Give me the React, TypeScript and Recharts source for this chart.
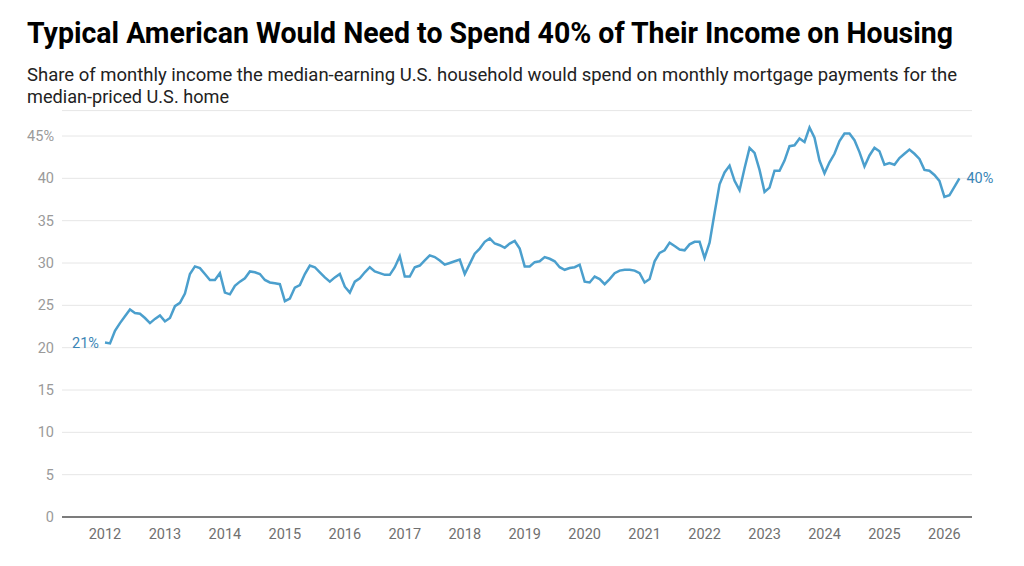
import { CartesianGrid, Line, LineChart, XAxis, YAxis } from "recharts";

// Monthly share of income (%) needed for the median-priced home, Jan 2012 – Apr 2026
const START_YEAR = 2012;
const shareOfIncome = [
  20.6, 20.5, 22.0, 22.9, 23.7, 24.5, 24.1, 24.0, 23.5, 22.9, 23.4, 23.8,
  23.1, 23.5, 24.9, 25.3, 26.4, 28.7, 29.6, 29.4, 28.7, 28.0, 28.0, 28.8,
  26.5, 26.3, 27.3, 27.8, 28.2, 29.0, 28.9, 28.7, 28.0, 27.7, 27.6, 27.5,
  25.5, 25.8, 27.1, 27.4, 28.7, 29.7, 29.5, 28.9, 28.3, 27.8, 28.3, 28.7,
  27.2, 26.5, 27.8, 28.2, 28.9, 29.5, 29.0, 28.8, 28.6, 28.6, 29.5, 30.8,
  28.4, 28.4, 29.5, 29.7, 30.3, 30.9, 30.7, 30.3, 29.8, 30.0, 30.2, 30.4,
  28.7, 29.9, 31.1, 31.7, 32.5, 32.9, 32.3, 32.1, 31.8, 32.3, 32.6, 31.7,
  29.6, 29.6, 30.1, 30.2, 30.7, 30.5, 30.2, 29.5, 29.2, 29.4, 29.5, 29.8,
  27.8, 27.7, 28.4, 28.1, 27.5, 28.1, 28.8, 29.1, 29.2, 29.2, 29.1, 28.8,
  27.7, 28.1, 30.2, 31.2, 31.5, 32.4, 32.0, 31.6, 31.5, 32.2, 32.5, 32.5,
  30.6, 32.4, 35.9, 39.3, 40.7, 41.5, 39.7, 38.6, 41.2, 43.6, 43.0, 41.0,
  38.4, 38.9, 40.9, 40.9, 42.1, 43.8, 43.9, 44.7, 44.3, 46.0, 44.8, 42.1,
  40.6, 41.9, 42.9, 44.4, 45.3, 45.3, 44.5, 43.1, 41.4, 42.7, 43.6, 43.2,
  41.6, 41.8, 41.6, 42.4, 42.9, 43.4, 42.9, 42.3, 41.0, 40.9, 40.4, 39.7,
  37.8, 38.0, 39.0, 40.0,
];

const yearTicks = [
  2012, 2013, 2014, 2015, 2016, 2017, 2018, 2019, 2020, 2021, 2022, 2023,
  2024, 2025, 2026,
];
const percentTicks = [0, 5, 10, 15, 20, 25, 30, 35, 40, 45];

const TITLE =
  "Typical American Would Need to Spend 40% of Their Income on Housing";
const SUBTITLE_1 =
  "Share of monthly income the median-earning U.S. household would spend on monthly mortgage payments for the";
const SUBTITLE_2 = "median-priced U.S. home";

const LINE_BLUE = "#4b9fcd";
const LABEL_BLUE = "#3a85b5";
const FONT = "Roboto, 'Noto Sans', sans-serif";

const chartData = shareOfIncome.map((value, i) => ({
  t: START_YEAR + i / 12,
  value,
}));

// Only the first and last points get a value label
function EndLabel(props: any) {
  const { x, y, index, value } = props;
  const last = chartData.length - 1;
  if (index !== 0 && index !== last) return null;
  const isFirst = index === 0;
  return (
    <text
      x={isFirst ? x - 6 : x + 7}
      y={y}
      dy="0.35em"
      textAnchor={isFirst ? "end" : "start"}
      fill={LABEL_BLUE}
      fontSize={14.5}
      fontFamily={FONT}
    >
      {Math.round(value)}%
    </text>
  );
}

export default function App() {
  return (
    <div
      style={{
        position: "absolute",
        left: 0,
        top: 0,
        width: 1024,
        height: 566,
        background: "#fff",
        fontFamily: FONT,
      }}
    >
      <svg
        width={1024}
        height={120}
        style={{ position: "absolute", left: 0, top: 0 }}
      >
        <text
          x={27}
          y={43}
          fontSize={30}
          fontWeight={700}
          fill="#000"
          fontFamily={FONT}
          textLength={926}
          lengthAdjust="spacingAndGlyphs"
        >
          {TITLE}
        </text>
        <text
          x={27}
          y={81}
          fontSize={18}
          fill="#222"
          fontFamily={FONT}
          textLength={930}
          lengthAdjust="spacingAndGlyphs"
        >
          {SUBTITLE_1}
        </text>
        <text
          x={27}
          y={103}
          fontSize={18}
          fill="#222"
          fontFamily={FONT}
          textLength={202}
          lengthAdjust="spacingAndGlyphs"
        >
          {SUBTITLE_2}
        </text>
      </svg>

      <div style={{ position: "absolute", left: 0, top: 0 }}>
        <LineChart
          width={1024}
          height={566}
          data={chartData}
          margin={{ top: 110.6, right: 52, bottom: 19, left: 0 }}
        >
          <CartesianGrid stroke="#e6e6e6" vertical={false} />
          <XAxis
            dataKey="t"
            type="number"
            domain={[2011.283, 2026.46]}
            ticks={yearTicks}
            tickLine={false}
            tickMargin={6}
            axisLine={{ stroke: "#555", strokeWidth: 1.5 }}
            tick={{ fill: "#707070", fontSize: 14.5, fontFamily: FONT }}
            height={30}
          />
          <YAxis
            type="number"
            domain={[0, 48]}
            ticks={percentTicks}
            tickFormatter={(v: number) => (v === 45 ? "45%" : String(v))}
            tickLine={false}
            axisLine={false}
            width={62}
            tick={{ fill: "#9a9a9a", fontSize: 14.5, fontFamily: FONT }}
          />
          <Line
            type="linear"
            dataKey="value"
            stroke={LINE_BLUE}
            strokeWidth={2.5}
            dot={false}
            activeDot={false}
            label={EndLabel}
            isAnimationActive={false}
          />
        </LineChart>
      </div>
    </div>
  );
}
